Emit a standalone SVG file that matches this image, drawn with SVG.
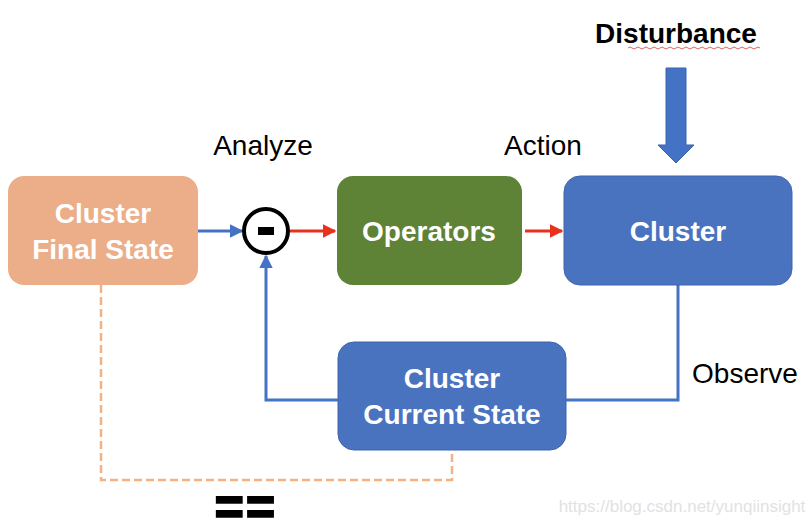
<svg xmlns="http://www.w3.org/2000/svg" width="807" height="522" viewBox="0 0 807 522">
<defs>
<style>
.box-text{font-family:"Liberation Sans",Arial,sans-serif;font-weight:bold;font-size:28px;fill:#ffffff;text-anchor:middle}
.label{font-family:"Liberation Sans",Arial,sans-serif;font-size:28px;fill:#000000;text-anchor:middle}
.blue{stroke:#4472C4;stroke-width:3;fill:none}
.red{stroke:#E8321E;stroke-width:3;fill:none}
</style>
<marker id="ab" viewBox="0 0 10 10" refX="9" refY="5" markerWidth="4.5" markerHeight="4.5" orient="auto" markerUnits="strokeWidth"><path d="M0,0 L10,5 L0,10 z" fill="#4472C4"/></marker>
<marker id="ar" viewBox="0 0 10 10" refX="9" refY="5" markerWidth="4.5" markerHeight="4.5" orient="auto" markerUnits="strokeWidth"><path d="M0,0 L10,5 L0,10 z" fill="#E8321E"/></marker>
</defs>
<rect width="807" height="522" fill="#ffffff"/>

<g id="connectors">
<path class="blue" d="M198,231 L242,231" marker-end="url(#ab)"/>
<path class="red" d="M290,231 L335,231" marker-end="url(#ar)"/>
<path class="red" d="M525,231 L562,231" marker-end="url(#ar)"/>
<path class="blue" d="M678,285 L678,400 L566,400"/>
<path class="blue" d="M338,400 L266,400 L266,256" marker-end="url(#ab)"/>
<path d="M101,285 L101,480 L452,480 L452,450" fill="none" stroke="#F4B183" stroke-width="2.5" stroke-dasharray="8,4"/>
<path d="M666,68 L686,68 L686,145 L694,145 L676,163 L658,145 L666,145 z" fill="#4472C4" stroke="#3A63AE" stroke-width="1"/>
</g>

<g id="final-state">
<rect x="8" y="176" width="190" height="109" rx="16" fill="#EBAE89"/>
<text class="box-text" x="103" y="223">Cluster</text>
<text class="box-text" x="103" y="259">Final State</text>
</g>

<g id="comparator">
<circle cx="266" cy="231" r="22" fill="#ffffff" stroke="#000000" stroke-width="4"/>
<rect x="258" y="227" width="16" height="8" fill="#000000"/>
</g>

<g id="operators">
<rect x="337" y="176" width="185" height="109" rx="16" fill="#5E8236"/>
<text class="box-text" x="429" y="241">Operators</text>
</g>

<g id="cluster">
<rect x="564" y="176" width="228" height="109" rx="16" fill="#4A73BF" stroke="#3F65AD" stroke-width="1"/>
<text class="box-text" x="678" y="241">Cluster</text>
</g>

<g id="current-state">
<rect x="338" y="342" width="228" height="108" rx="16" fill="#4A73BF" stroke="#3F65AD" stroke-width="1"/>
<text class="box-text" x="452" y="388">Cluster</text>
<text class="box-text" x="452" y="424">Current State</text>
</g>

<g id="labels">
<text class="label" x="676" y="43" font-weight="bold">Disturbance</text>
<path d="M628,48 q2,-2 4,0 t4,0 t4,0 t4,0 t4,0 t4,0 t4,0 t4,0 t4,0 t4,0 t4,0 t4,0 t4,0 t4,0 t4,0 t4,0 t4,0 t4,0 t4,0 t4,0 t4,0 t4,0 t4,0 t4,0 t4,0 t4,0 t4,0 t4,0 t4,0 t4,0 t4,0 t4,0 t4,0" fill="none" stroke="#E06060" stroke-width="1"/>
<text class="label" x="246" y="522" style="font-size:46px;font-weight:bold" stroke="#000000" stroke-width="1.8" letter-spacing="2" transform="translate(246,506) scale(1.08,1.13) translate(-246,-506)">==</text>
<text class="label" x="263" y="155">Analyze</text>
<text class="label" x="543" y="155">Action</text>
<text class="label" x="745" y="383">Observe</text>
<text x="682" y="512" font-family="Liberation Sans,Arial,sans-serif" font-size="17" fill="#e2e2e2" text-anchor="middle">https://blog.csdn.net/yunqiinsight</text>
</g>
</svg>
